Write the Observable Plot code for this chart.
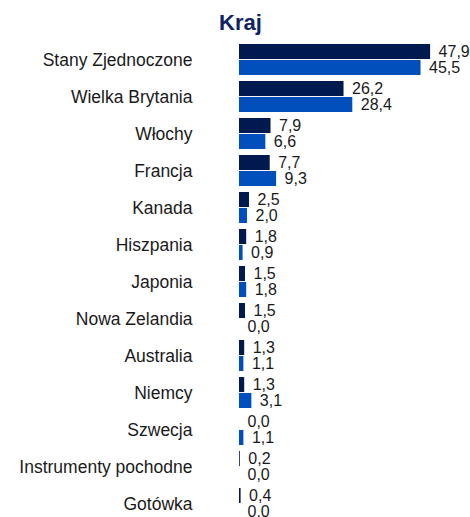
<!DOCTYPE html>
<html>
<head>
<meta charset="utf-8">
<script src="https://cdn.jsdelivr.net/npm/d3@7"></script>
<script src="https://cdn.jsdelivr.net/npm/@observablehq/plot@0.6"></script>
<style>
  html, body { margin: 0; padding: 0; background: #fff; overflow: hidden; }
  #title { height: 40px; box-sizing: border-box; padding-top: 12px; padding-left: 219px;
    font: bold 22px "Liberation Sans", Arial, sans-serif; line-height: 22px; color: #0d2563; }
  #chart svg { display: block; }
</style>
</head>
<body>
<div id="title">Kraj</div>
<div id="chart"></div>
<script>
const categories = ["Stany Zjednoczone", "Wielka Brytania", "Włochy", "Francja", "Kanada", "Hiszpania",
  "Japonia", "Nowa Zelandia", "Australia", "Niemcy", "Szwecja", "Instrumenty pochodne", "Gotówka"];
const series = ["A", "B"];
const valuesA = [47.9, 26.2, 7.9, 7.7, 2.5, 1.8, 1.5, 1.5, 1.3, 1.3, 0.0, 0.2, 0.4];
const valuesB = [45.5, 28.4, 6.6, 9.3, 2.0, 0.9, 1.8, 0.0, 1.1, 3.1, 1.1, 0.0, 0.0];
const colors = ["#001a50", "#004fbd"];

const data = [];
categories.forEach((c, i) => {
  data.push({cat: c, series: series[0], value: valuesA[i]});
  data.push({cat: c, series: series[1], value: valuesB[i]});
});
const fmt = v => v.toFixed(1).replace(".", ",");

const chart = Plot.plot({
  width: 470,
  height: 480,
  marginTop: 4,
  marginBottom: 1,
  marginLeft: 239,
  marginRight: 39.5,
  style: {fontFamily: '"Liberation Sans", Arial, sans-serif', color: "#1a1a1a", background: "#fff"},
  x: {domain: [0, 48], axis: null},
  y: {domain: series, axis: null, paddingInner: 0.06, paddingOuter: 0, round: false},
  fy: {domain: categories, paddingInner: 0.162, paddingOuter: 0, label: null, round: false},
  color: {domain: series, range: colors},
  marks: [
    Plot.axisFy({anchor: "left", tickSize: 0, tickPadding: 47, fontSize: 17.5, label: null, fill: "#1a1a1a"}),
    Plot.barX(data, {x: "value", y: "series", fy: "cat", fill: "series"}),
    Plot.text(data, {x: "value", y: "series", fy: "cat", text: d => fmt(d.value),
      textAnchor: "start", dx: 8, fontSize: 16, fill: "#1a1a1a"})
  ]
});
document.getElementById("chart").appendChild(chart);
</script>
</body>
</html>
